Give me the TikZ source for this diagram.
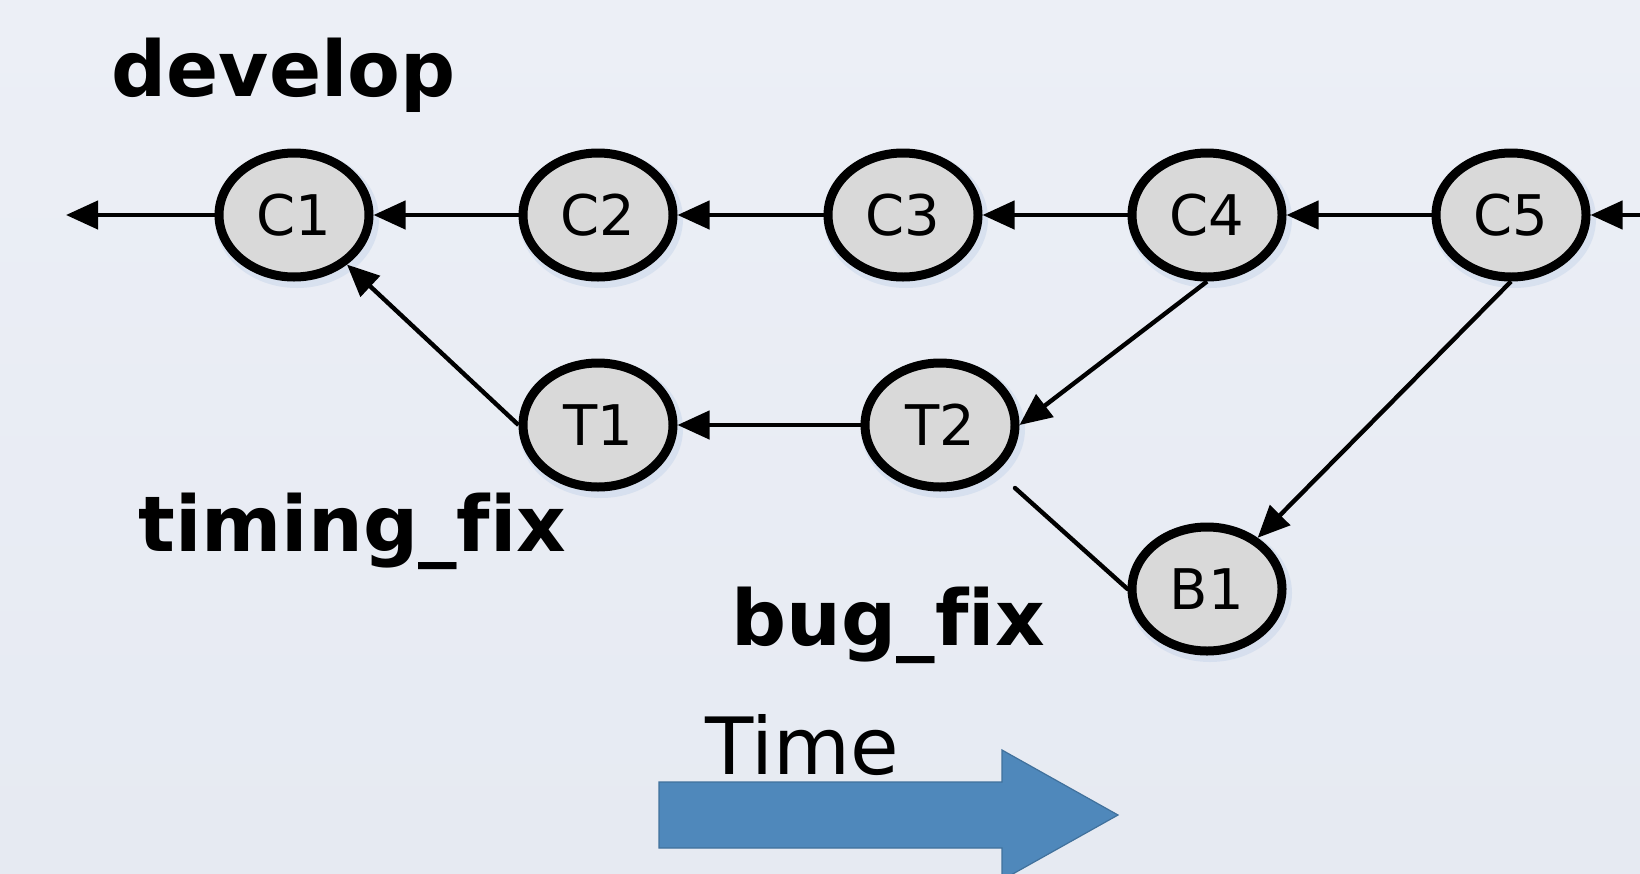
\documentclass[tikz,border=0pt]{standalone}
\usepackage{fontspec}
\setmainfont[Ligatures=NoCommon]{DejaVu Sans}
\usetikzlibrary{shapes.geometric,arrows.meta}
\definecolor{bgtop}{HTML}{ECEFF6}
\definecolor{bgbot}{HTML}{E6EAF2}
\definecolor{commitfill}{HTML}{D9D9D9}
\definecolor{glow}{HTML}{B8CBE6}
\definecolor{timeblue}{HTML}{4F88BB}
\definecolor{timeedge}{HTML}{41719C}
\tikzset{
  commit/.style={ellipse, draw=black, line width=9pt, fill=commitfill,
    minimum width=150pt, minimum height=124pt, inner sep=0pt,
    font=\fontsize{56}{60}\selectfont},
  halo/.style={ellipse, fill=glow, opacity=0.35,
    minimum width=164pt, minimum height=138pt, inner sep=0pt},
  link/.style={line width=4.4pt, -{Triangle[length=32pt,width=28pt]}},
  plain/.style={line width=4.4pt},
  branch/.style={anchor=base west, font=\fontsize{77}{80}\selectfont\bfseries},
}
\begin{document}
\begin{tikzpicture}[x=1pt,y=-1pt]
  \useasboundingbox (0,0) rectangle (1640,873);
  \clip (0,0) rectangle (1640,873);
  \shade[top color=bgtop, bottom color=bgbot] (0,0) rectangle (1640,873);

  % soft glow beneath each commit
  \foreach \px/\py in {294/215,598/215,903/215,1207/215,1511/215,
                       598/425,940/425,1207/589}
    \node[halo] (halo\px x\py) at (\px+3,\py+4) {};

  % commits
  \node[commit] (C1) at (294,215) {C1};
  \node[commit] (C2) at (598,215) {C2};
  \node[commit] (C3) at (903,215) {C3};
  \node[commit] (C4) at (1207,215) {C4};
  \node[commit] (C5) at (1511,215) {C5};
  \node[commit] (T1) at (598,425) {T1};
  \node[commit] (T2) at (940,425) {T2};
  \node[commit] (B1) at (1207,589) {B1};

  \coordinate (past) at (66,215);
  \coordinate (future) at (1645,215);
  \coordinate (t2tail) at (1015,488);

  % history links
  \draw[link] (C1) -- (past);
  \draw[link] (C2) -- (C1);
  \draw[link] (C3) -- (C2);
  \draw[link] (C4) -- (C3);
  \draw[link] (C5) -- (C4);
  \draw[link] (future) -- (C5);
  \draw[link] (T1.west) -- (C1);
  \draw[link] (T2) -- (T1);
  \draw[link] (C4.south) -- (T2.east);
  \draw[link] (C5.south) -- (B1);
  \draw[plain, line cap=round] (t2tail) -- (B1.west);

  % branch names
  \node[branch] (lblDevelop) at (108,96) {develop};
  \node[branch] (lblTiming) at (135,551) {timing\_fix};
  \node[branch] (lblBug) at (728,645) {bug\_fix};

  % time arrow
  \filldraw[fill=timeblue, draw=timeedge, line width=1.2pt]
    (659,782) -- (1002,782) -- (1002,750) -- (1118,815) -- (1002,880)
    -- (1002,848) -- (659,848) -- cycle;
  \node[anchor=base west, font=\fontsize{79}{82}\selectfont] (lblTime) at (702,774) {Time};
\end{tikzpicture}
\end{document}
